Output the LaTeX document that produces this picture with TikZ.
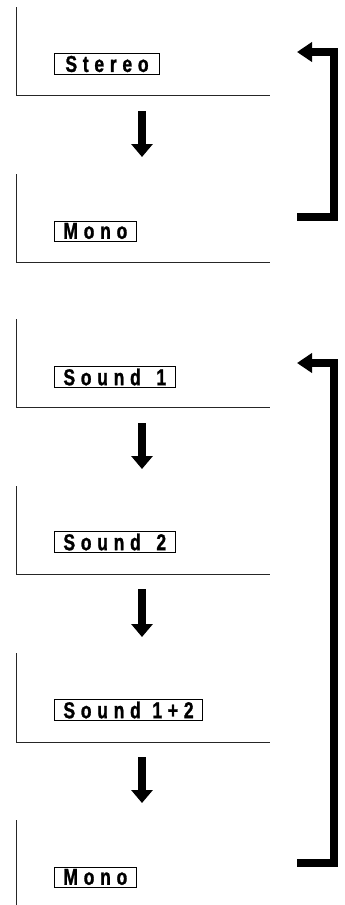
\documentclass[tikz,border=0pt]{standalone}
\usepackage{fontspec}
\newfontfamily\panelfont[FakeStretch=0.76,FakeBold=1.2,LetterSpace=25]{Liberation Sans Bold}
\usetikzlibrary{positioning,arrows.meta}
\tikzset{
  modebox/.style={draw, line width=0.9pt, inner xsep=9pt, inner ysep=2pt, font=\panelfont\fontsize{23}{23}\selectfont, anchor=west},
  panelline/.style={line width=0.9pt, draw=black!85},
  steparrow/.style={-{Triangle[length=13pt, width=21pt]}, line width=8pt},
  looparrow/.style={-{Triangle[length=15pt, width=19pt]}, line width=8.5pt, line join=miter}
}
\begin{document}
\begin{tikzpicture}[x=1pt, y=-1pt]
      \useasboundingbox (0,0) rectangle (345,905);
      % upper group
      \draw[panelline] (16,7) -- (16,95) -- (270,95);
      \draw[panelline] (16,174) -- (16,262) -- (270,262);
      \node[modebox, inner xsep=11pt] (stereo) at (54,64) {Stereo};
      \node[modebox] (monoa) at (54,231) {Mono};
      \coordinate (s1) at (142,111);
      \coordinate (e1) at (142,157);
      \draw[steparrow] (s1) -- (e1);
      \coordinate (ra) at (297,217);
      \coordinate (ta) at (297,52);
      \draw[looparrow] (ra) -| (334,52) -- (ta);
      % lower group
      \draw[panelline] (16,319) -- (16,407) -- (270,407);
      \draw[panelline] (16,486) -- (16,574) -- (270,574);
      \draw[panelline] (16,653) -- (16,742) -- (270,742);
      \draw[panelline] (16,820) -- (16,905);
      \node[modebox] (snda) at (54,377) {Sound\ \hspace{5pt}1};
      \node[modebox] (sndb) at (54,542) {Sound\ \hspace{5pt}2};
      \node[modebox] (sndab) at (54,710) {Sound\ \hspace{1pt}1+2};
      \node[modebox] (monob) at (54,877) {Mono};
      \coordinate (s2) at (142,423);
      \coordinate (e2) at (142,469);
      \coordinate (s3) at (142,589);
      \coordinate (e3) at (142,637);
      \coordinate (s4) at (142,757);
      \coordinate (e4) at (142,803);
      \draw[steparrow] (s2) -- (e2);
      \draw[steparrow] (s3) -- (e3);
      \draw[steparrow] (s4) -- (e4);
      \coordinate (rb) at (297,863);
      \coordinate (tb) at (297,363);
      \draw[looparrow] (rb) -| (334,363) -- (tb);
\end{tikzpicture}
\end{document}
